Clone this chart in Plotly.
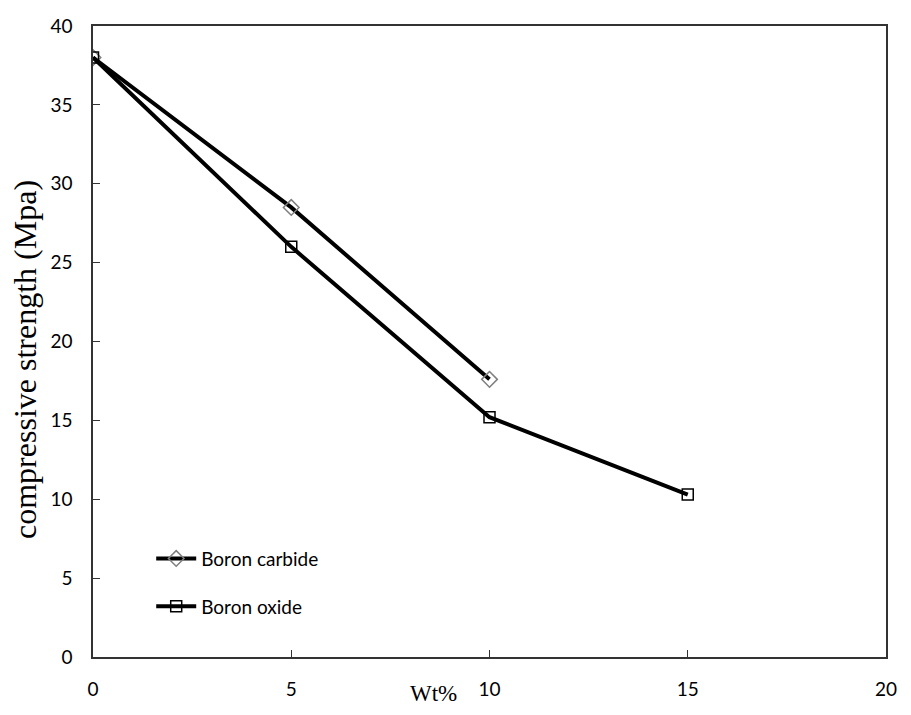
import plotly.graph_objects as go

carbide_x = [0, 5, 10]
carbide_y = [38.0, 28.5, 17.6]
oxide_x = [0, 5, 10, 15]
oxide_y = [38.0, 26.0, 15.2, 10.3]

x_ticks = [0, 5, 10, 15, 20]
y_ticks = [0, 5, 10, 15, 20, 25, 30, 35, 40]

fig = go.Figure()
fig.add_trace(go.Scatter(
    x=carbide_x, y=carbide_y, name="Boron carbide", mode="lines+markers",
    legendgroup="a",
    line=dict(color="black", width=4),
    marker=dict(symbol="diamond-open", size=12, color="#7f7f7f", line=dict(width=1.5, color="#7f7f7f")),
))
fig.add_trace(go.Scatter(
    x=oxide_x, y=oxide_y, name="Boron oxide", mode="lines+markers",
    legendgroup="b",
    line=dict(color="black", width=4),
    marker=dict(symbol="square-open", size=11, color="black", line=dict(width=1.5, color="black")),
))

tickfont = dict(family="Lato, Open Sans, sans-serif", size=19, color="black")
fig.update_xaxes(
    range=[0, 20], tickvals=x_ticks, ticks="inside", ticklen=7, tickcolor="#333",
    showline=True, linecolor="#333", linewidth=1.5, mirror=True, showgrid=False, zeroline=False,
    tickfont=tickfont, ticklabelstandoff=14, ticklabeloverflow="allow",
)
fig.update_yaxes(
    range=[0, 40], tickvals=y_ticks, ticks="inside", ticklen=7, tickcolor="#333",
    showline=True, linecolor="#333", linewidth=1.5, mirror=True, showgrid=False, zeroline=False,
    tickfont=tickfont, ticklabelstandoff=15, ticklabeloverflow="allow",
)
fig.add_annotation(
    text="Wt%", xref="paper", yref="paper", x=0.430, y=-0.058, showarrow=False,
    font=dict(family="Liberation Serif, serif", size=23, color="black"), yanchor="middle",
)
fig.add_annotation(
    text="compressive strength (Mpa)", xref="paper", yref="paper", x=-0.086, y=0.472,
    textangle=-90, showarrow=False,
    font=dict(family="Liberation Serif, serif", size=32, color="black"), xanchor="center",
)
fig.update_layout(
    width=895, height=699,
    margin=dict(l=85, r=6, t=11, b=50),
    plot_bgcolor="white", paper_bgcolor="white",
    showlegend=True,
    legend=dict(x=0.0734, y=0.186, xanchor="left", yanchor="top", bgcolor="rgba(0,0,0,0)",
                font=dict(family="Lato, Open Sans, sans-serif", size=19, color="black"),
                traceorder="grouped", tracegroupgap=20, itemwidth=40),
)
fig.write_html("out.html", config={"displayModeBar": False})
